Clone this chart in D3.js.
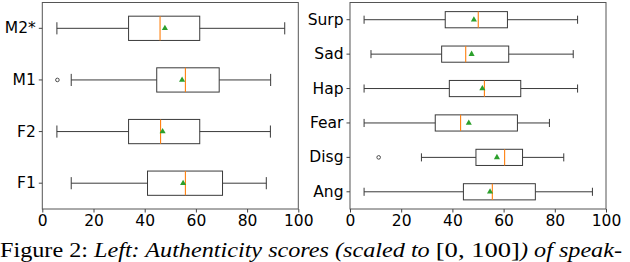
<!DOCTYPE html>
<html><head><meta charset="utf-8">
<script src="https://cdn.jsdelivr.net/npm/d3@7"></script>
<style>body{margin:0;background:#fff}svg{display:block}</style>
</head><body>
<svg id="c" width="630" height="262"></svg>
<script>
// Left panel: speakers
const leftCats = ["M2*", "M1", "F2", "F1"];
const leftLow  = [5.7, 11.3, 5.7, 11.3];
const leftQ1   = [33.7, 44.7, 33.7, 41.1];
const leftMed  = [46.0, 55.9, 46.2, 55.9];
const leftMean = [47.9, 54.6, 47.0, 55.0];
const leftQ3   = [61.5, 69.1, 61.5, 70.4];
const leftHigh = [94.7, 89.2, 89.1, 87.5];
const leftOut  = [[], [5.9], [], []];

// Right panel: emotions
const rightCats = ["Surp", "Sad", "Hap", "Fear", "Disg", "Ang"];
const rightLow  = [5.5, 8.2, 5.5, 5.5, 27.9, 5.5];
const rightQ1   = [37.2, 35.8, 38.8, 33.3, 49.2, 44.3];
const rightMed  = [50.1, 45.2, 52.5, 43.2, 60.4, 55.6];
const rightMean = [48.4, 47.5, 51.7, 46.4, 57.4, 54.7];
const rightQ3   = [61.5, 62.0, 66.7, 65.4, 67.4, 72.4];
const rightHigh = [88.9, 87.2, 88.9, 77.9, 83.5, 94.7];
const rightOut  = [[], [], [], [], [11.2], []];

const xTicks = [0, 20, 40, 60, 80, 100];

const svg = d3.select("#c");
const FONT = "'DejaVu Sans', sans-serif";

function panel(x0, x1, y0, y1, cats, low, q1, med, mean, q3, high, outs) {
  const g = svg.append("g");
  const x = d3.scaleLinear().domain([0, 100]).range([x0, x1]);
  const y = d3.scaleBand().domain(cats).range([y0, y1]).paddingInner(0).paddingOuter(0);
  const bw = y.bandwidth() * 0.47;
  const cy = c => y(c) + y.bandwidth() / 2;
  const stroke = "#3a3a3a";

  cats.forEach((c, i) => {
    const yc = cy(c);
    g.append("line").attr("x1", x(low[i])).attr("x2", x(q1[i])).attr("y1", yc).attr("y2", yc).attr("stroke", stroke);
    g.append("line").attr("x1", x(q3[i])).attr("x2", x(high[i])).attr("y1", yc).attr("y2", yc).attr("stroke", stroke);
    [low[i], high[i]].forEach(v => {
      g.append("line").attr("x1", x(v)).attr("x2", x(v)).attr("y1", yc - bw / 4).attr("y2", yc + bw / 4).attr("stroke", stroke);
    });
    g.append("rect").attr("x", x(q1[i])).attr("y", yc - bw / 2).attr("width", x(q3[i]) - x(q1[i])).attr("height", bw)
      .attr("fill", "none").attr("stroke", stroke);
    g.append("line").attr("x1", x(med[i])).attr("x2", x(med[i])).attr("y1", yc - bw / 2).attr("y2", yc + bw / 2).attr("stroke", "#ff7f0e").attr("stroke-width", 1.1);
    g.append("path").attr("d", d3.symbol().type(d3.symbolTriangle).size(16)()).attr("transform", `translate(${x(mean[i])},${yc})`).attr("fill", "#2ca02c");
    outs[i].forEach(v => {
      g.append("circle").attr("cx", x(v)).attr("cy", yc).attr("r", 1.8).attr("fill", "none").attr("stroke", stroke).attr("stroke-width", 0.9);
    });
  });

  g.append("rect").attr("x", x0).attr("y", y0).attr("width", x1 - x0).attr("height", y1 - y0).attr("fill", "none").attr("stroke", "#555");

  const xa = g.append("g").attr("transform", `translate(0,${y1})`).call(d3.axisBottom(x).tickValues(xTicks).tickSize(3.5).tickSizeOuter(0).tickPadding(2));
  const ya = g.append("g").attr("transform", `translate(${x0},0)`).call(d3.axisLeft(y).tickSize(3.5).tickSizeOuter(0).tickPadding(3));
  [xa, ya].forEach(a => {
    a.select(".domain").remove();
    a.selectAll("line").attr("stroke", "#444");
    a.selectAll("text").attr("font-family", FONT).attr("font-size", 15.5).attr("fill", "#000");
  });
}

panel(42.3, 298.3, 2.5, 209, leftCats, leftLow, leftQ1, leftMed, leftMean, leftQ3, leftHigh, leftOut);
panel(350, 606, 2.5, 209, rightCats, rightLow, rightQ1, rightMed, rightMean, rightQ3, rightHigh, rightOut);

// caption
const SERIF = "'Liberation Serif', Tinos, 'Times New Roman', Times, 'DejaVu Serif', serif";
const t = svg.append("text").attr("x", 0).attr("y", 256.5).attr("font-family", SERIF).attr("font-size", 20).attr("fill", "#000");
t.append("tspan").text("Figure 2: ");
t.append("tspan").attr("font-style", "italic").text("Left: Authenticity scores (scaled to ");
t.append("tspan").attr("font-size", 22).text("[0, 100]");
t.append("tspan").attr("font-style", "italic").text(") of speak-");
const w = t.node().getComputedTextLength();
if (w > 0) t.attr("textLength", 622).attr("lengthAdjust", "spacingAndGlyphs");
</script>
</body></html>
